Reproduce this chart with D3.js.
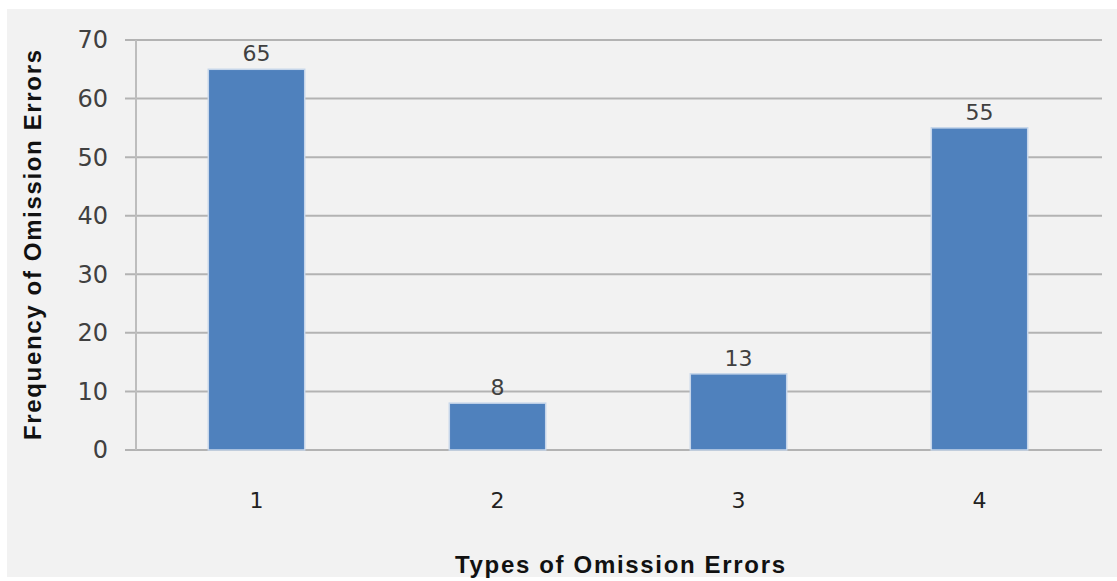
<!DOCTYPE html>
<html><head><meta charset="utf-8">
<script src="https://cdn.jsdelivr.net/npm/d3@7/dist/d3.min.js"></script>
<style>body{margin:0;background:#fff;}svg{display:block;}</style>
</head><body>
<script>
const categories = ["1","2","3","4"];
const values = [65, 8, 13, 55];
const yTicks = [0,10,20,30,40,50,60,70];
const xTitle = "Types of Omission Errors";
const yTitle = "Frequency of Omission Errors";

const W = 1117, H = 581;
const svg = d3.select("body").append("svg").attr("width", W).attr("height", H);
svg.append("rect").attr("x",7).attr("y",9).attr("width",W-7).attr("height",H-13).attr("fill","#f2f2f2");

const mLeft = 136, mRight = 1100, mTop = 40, mBottom = 450;
const x = d3.scaleBand().domain(categories).range([mLeft, mRight]).paddingInner(0.6).paddingOuter(0.3);
const y = d3.scaleLinear().domain([0,70]).range([mBottom, mTop]);

// gridlines
svg.append("g").selectAll("line").data(yTicks).join("line")
  .attr("x1", 125).attr("x2", 1102)
  .attr("y1", d=>y(d)).attr("y2", d=>y(d))
  .attr("stroke", "#b3b3b3").attr("stroke-width", 2);
// vertical axis line
svg.append("line").attr("x1", mLeft).attr("x2", mLeft).attr("y1", mTop).attr("y2", mBottom)
  .attr("stroke","#bdbdbd").attr("stroke-width",2);

// y tick labels
svg.append("g").selectAll("text").data(yTicks).join("text")
  .attr("x", 108).attr("y", d=>y(d)).attr("dy","0.35em")
  .attr("text-anchor","end").attr("font-family","'DejaVu Sans', sans-serif")
  .attr("font-size",24).attr("fill","#404040").text(d=>d);

// bars
svg.append("g").selectAll("rect").data(values).join("rect")
  .attr("x", (d,i)=>x(categories[i])).attr("width", x.bandwidth())
  .attr("y", d=>y(d)).attr("height", d=>mBottom - y(d))
  .attr("fill","#4f81bd").attr("stroke","#c6d6ea").attr("stroke-width",1.5);

// value labels
svg.append("g").selectAll("text").data(values).join("text")
  .attr("x", (d,i)=>x(categories[i]) + x.bandwidth()/2).attr("y", d=>y(d) - 8)
  .attr("text-anchor","middle").attr("font-family","'DejaVu Sans', sans-serif")
  .attr("font-size",22).attr("fill","#404040").text(d=>d);

// x tick labels
svg.append("g").selectAll("text").data(categories).join("text")
  .attr("x", d=>x(d) + x.bandwidth()/2).attr("y", 508)
  .attr("text-anchor","middle").attr("font-family","'DejaVu Sans', sans-serif")
  .attr("font-size",22).attr("fill","#222").text(d=>d);

// titles
svg.append("text").attr("x", 620).attr("y", 573).attr("text-anchor","middle")
  .attr("font-family","'Liberation Sans', 'DejaVu Sans', sans-serif").attr("font-weight","bold")
  .attr("font-size",24).attr("fill","#111").attr("textLength",330).text(xTitle);
svg.append("text").attr("transform","translate(41,245) rotate(-90)").attr("text-anchor","middle")
  .attr("font-family","'Liberation Sans', 'DejaVu Sans', sans-serif").attr("font-weight","bold")
  .attr("font-size",24).attr("fill","#111").attr("textLength",390).text(yTitle);
</script>
</body></html>
